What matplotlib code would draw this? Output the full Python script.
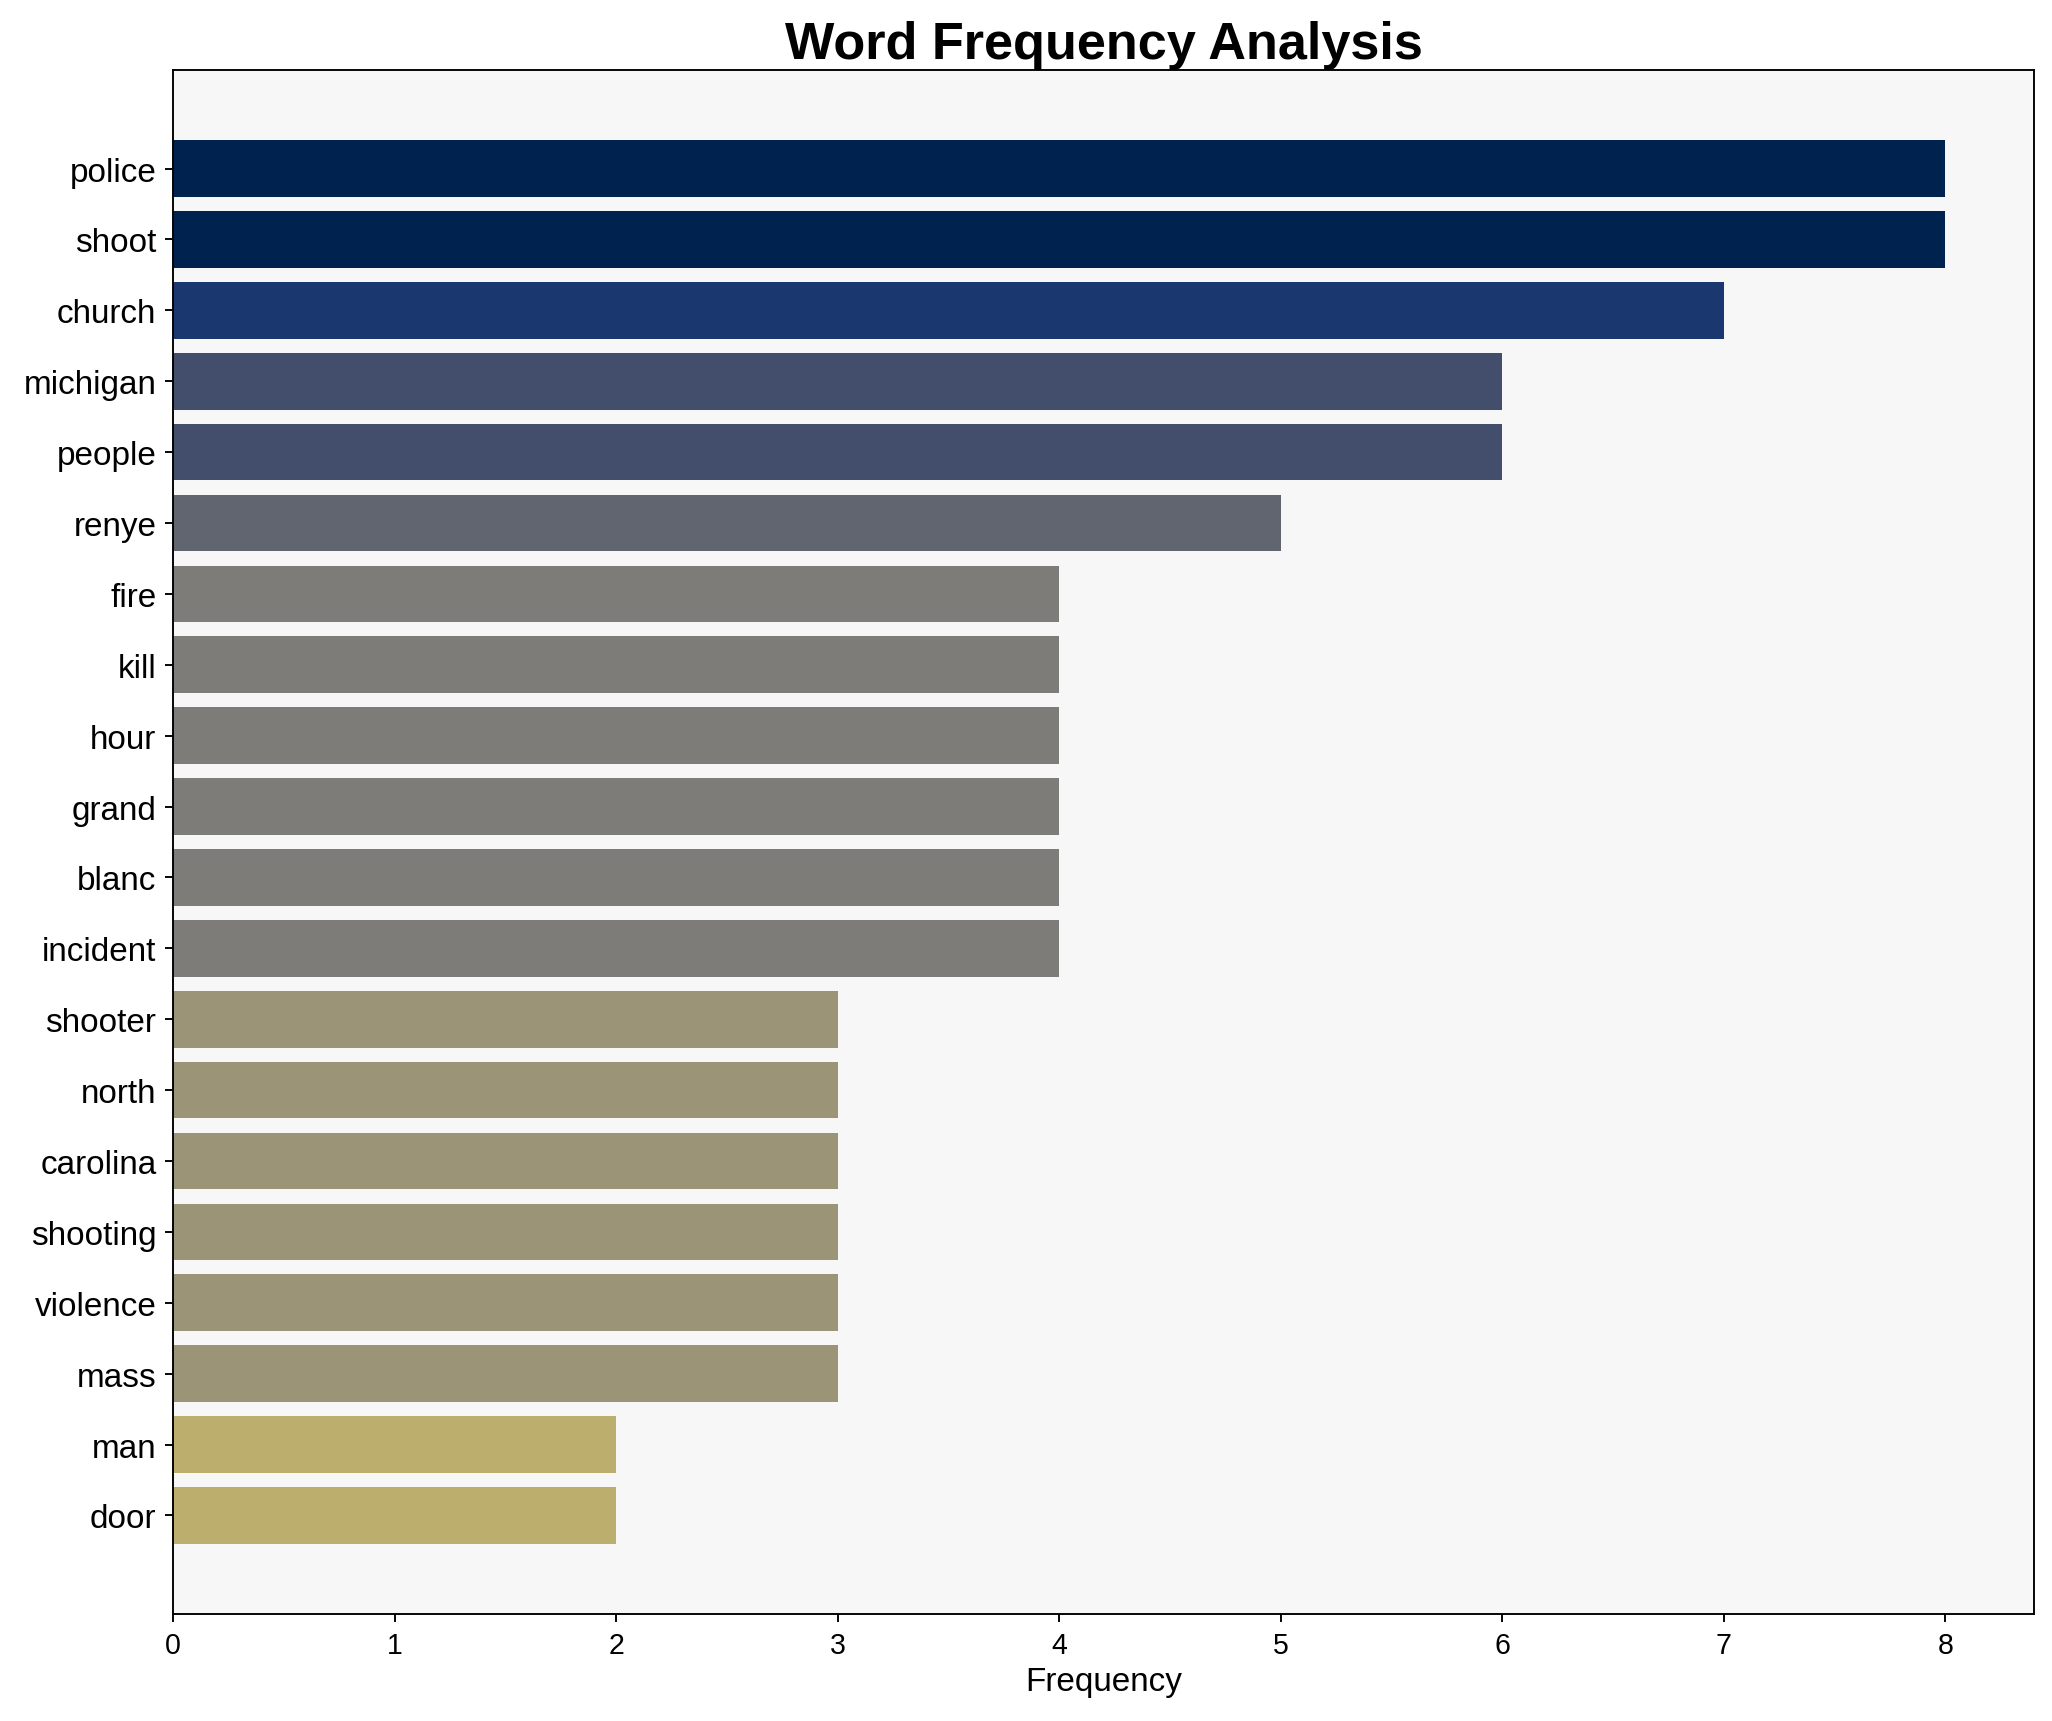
import matplotlib
matplotlib.use("Agg")
import matplotlib.pyplot as plt
import numpy as np

words = ["police", "shoot", "church", "michigan", "people", "renye", "fire", "kill",
         "hour", "grand", "blanc", "incident", "shooter", "north", "carolina",
         "shooting", "violence", "mass", "man", "door"]
counts = [8, 8, 7, 6, 6, 5, 4, 4, 4, 4, 4, 4, 3, 3, 3, 3, 3, 3, 2, 2]

plt.rcParams['font.family'] = ['Liberation Sans', 'DejaVu Sans']

fig = plt.figure(figsize=(12, 10.07), dpi=171)
ax = fig.add_axes([173/2052, 1 - 1615/1722, (2034-173)/2052, (1615-71)/1722])
ax.set_facecolor('#f7f7f7')

vals = np.array(counts, dtype=float)
colors = plt.cm.cividis(1 - vals / vals.max())
y = np.arange(len(words))
ax.barh(y, vals, height=0.8, color=colors)
ax.set_yticks(y)
ax.set_yticklabels(words, fontsize=14)
ax.invert_yaxis()
ax.tick_params(axis='x', labelsize=12)
ax.set_xlabel('Frequency', fontsize=14, labelpad=3)
ax.set_title('Word Frequency Analysis', fontsize=22, fontweight='bold', pad=5)

fig.savefig('out.png', dpi=171)
